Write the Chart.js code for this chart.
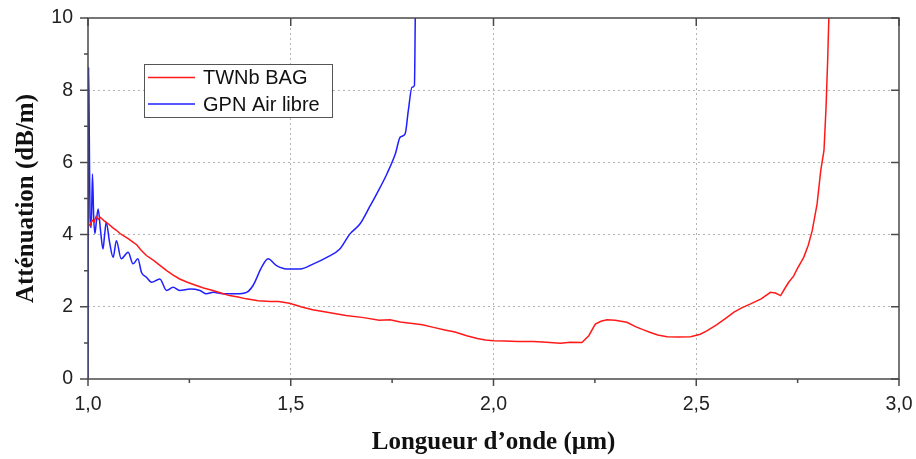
<!DOCTYPE html>
<html><head><meta charset="utf-8">
<script src="https://cdn.jsdelivr.net/npm/chart.js@4.4.1/dist/chart.umd.min.js"></script>
<style>html,body{margin:0;padding:0;background:#fff;}canvas{display:block;}</style>
</head><body>
<canvas id="c" width="916" height="459"></canvas>
<script>
// ---- data ----
const seriesLabels = ['TWNb BAG', 'GPN Air libre'];
const redX = [1.000,1.005,1.010,1.015,1.020,1.025,1.030,1.040,1.050,1.060,1.070,1.079,1.090,1.100,1.110,1.120,1.130,1.144,1.160,1.175,1.194,1.210,1.226,1.245,1.267,1.285,1.308,1.328,1.349,1.370,1.390,1.420,1.450,1.470,1.497,1.525,1.554,1.590,1.636,1.680,1.718,1.745,1.770,1.800,1.825,1.852,1.880,1.905,1.934,1.960,1.980,2.000,2.030,2.060,2.099,2.130,2.165,2.190,2.218,2.235,2.251,2.265,2.280,2.300,2.329,2.350,2.370,2.387,2.405,2.428,2.455,2.486,2.510,2.527,2.550,2.575,2.593,2.612,2.634,2.660,2.683,2.695,2.708,2.718,2.728,2.740,2.749,2.765,2.776,2.786,2.798,2.807,2.815,2.820,2.824,2.827,2.829];
const redY = [4.30,4.25,4.40,4.35,4.50,4.42,4.48,4.38,4.30,4.20,4.12,4.03,3.95,3.88,3.80,3.72,3.58,3.42,3.30,3.17,3.00,2.88,2.77,2.68,2.59,2.52,2.45,2.38,2.31,2.27,2.22,2.17,2.15,2.15,2.10,2.00,1.92,1.85,1.76,1.70,1.63,1.64,1.58,1.54,1.50,1.43,1.36,1.30,1.20,1.12,1.08,1.06,1.05,1.04,1.04,1.02,0.99,1.02,1.01,1.20,1.52,1.60,1.64,1.63,1.57,1.45,1.36,1.29,1.22,1.17,1.16,1.17,1.24,1.34,1.50,1.70,1.85,1.97,2.08,2.22,2.40,2.38,2.31,2.50,2.68,2.85,3.05,3.37,3.70,4.11,4.85,5.77,6.33,7.50,8.80,10.0,11.0];
const blueX = [1.000,1.0015,1.003,1.005,1.008,1.011,1.014,1.017,1.021,1.025,1.031,1.037,1.041,1.045,1.053,1.062,1.070,1.082,1.099,1.111,1.123,1.132,1.144,1.157,1.177,1.194,1.210,1.226,1.252,1.276,1.292,1.309,1.333,1.366,1.391,1.407,1.428,1.444,1.465,1.490,1.523,1.556,1.589,1.621,1.646,1.671,1.696,1.712,1.737,1.758,1.770,1.782,1.790,1.799,1.805,1.807,1.808];
const blueY = [0.00,8.64,7.00,4.50,4.20,5.68,4.50,4.03,4.40,4.71,4.10,3.60,4.00,4.34,3.80,3.37,3.83,3.33,3.51,3.19,3.33,2.95,2.82,2.68,2.77,2.45,2.54,2.45,2.49,2.45,2.36,2.40,2.36,2.36,2.40,2.59,3.09,3.33,3.14,3.05,3.05,3.19,3.37,3.60,4.02,4.30,4.80,5.13,5.68,6.24,6.70,6.79,7.44,8.08,8.13,9.93,11.0];
const xRange = [1.0, 3.0];
const yRange = [0, 10];
const xTitle = 'Longueur d\u2019onde (\u00b5m)';
const yTitle = 'Att\u00e9nuation (dB/m)';

const toPts = (xs, ys) => xs.map((x, i) => ({x: x, y: ys[i]}));
const isMajorX = v => Math.abs(v * 2 - Math.round(v * 2)) < 1e-6;
const isMajorY = v => Math.abs(v / 2 - Math.round(v / 2)) < 1e-6;
const noPad = s => { s.paddingLeft = 0; s.paddingRight = 0; s.paddingTop = 0; s.paddingBottom = 0; };

const framePlugin = {
  id: 'frame',
  afterDatasetsDraw(chart) {
    const {ctx, chartArea: a, scales: {x, y}} = chart;
    ctx.save();
    ctx.strokeStyle = '#4a4a4a';
    ctx.lineWidth = 1.5;
    ctx.strokeRect(a.left, a.top, a.right - a.left, a.bottom - a.top);
    ctx.beginPath();
    x.ticks.forEach(t => {
      const px = x.getPixelForValue(t.value);
      const major = isMajorX(t.value);
      ctx.moveTo(px, a.bottom); ctx.lineTo(px, a.bottom + (major ? 7 : 4));
      if (major) { ctx.moveTo(px, a.top); ctx.lineTo(px, a.top + 8); }
    });
    y.ticks.forEach(t => {
      const py = y.getPixelForValue(t.value);
      const major = isMajorY(t.value);
      ctx.moveTo(a.left, py); ctx.lineTo(a.left - (major ? 8 : 4), py);
      if (major) { ctx.moveTo(a.right, py); ctx.lineTo(a.right - 8, py); }
    });
    ctx.stroke();

    // legend box
    const bx = a.left + 56, by = a.top + 46, bw = 188, bh = 53;
    ctx.fillStyle = '#fff';
    ctx.fillRect(bx, by, bw, bh);
    ctx.strokeStyle = '#555';
    ctx.lineWidth = 1;
    ctx.strokeRect(bx + 0.5, by + 0.5, bw, bh);
    ctx.font = '20px "Liberation Sans", Arial, sans-serif';
    ctx.textBaseline = 'middle';
    ctx.textAlign = 'left';
    chart.data.datasets.forEach((ds, i) => {
      const ly = by + 13.5 + i * 26.5;
      ctx.strokeStyle = ds.borderColor;
      ctx.lineWidth = 1.5;
      ctx.beginPath(); ctx.moveTo(bx + 4, ly); ctx.lineTo(bx + 51, ly); ctx.stroke();
      ctx.fillStyle = '#111';
      ctx.fillText(ds.label, bx + 59, ly + 1);
    });
    ctx.restore();
  }
};

new Chart(document.getElementById('c'), {
  type: 'scatter',
  data: {
    datasets: [
      {label: seriesLabels[0], data: toPts(redX, redY), borderColor: '#ff1a1a', backgroundColor: '#ff1a1a', showLine: true, pointRadius: 0, borderWidth: 1.5, tension: 0},
      {label: seriesLabels[1], data: toPts(blueX, blueY), borderColor: '#1f1fff', backgroundColor: '#1f1fff', showLine: true, pointRadius: 0, borderWidth: 1.5, cubicInterpolationMode: 'monotone'}
    ]
  },
  options: {
    responsive: false,
    devicePixelRatio: 1,
    animation: false,
    layout: {padding: {left: 0, right: 17, top: 18, bottom: 0}},
    plugins: {legend: {display: false}, tooltip: {enabled: false}},
    scales: {
      x: {
        type: 'linear', min: xRange[0], max: xRange[1],
        afterFit(s) { s.height = 80; noPad(s); },
        ticks: {stepSize: 0.25, autoSkip: false, maxRotation: 0, padding: 14, color: '#222',
          font: {family: '"Liberation Sans", Arial, sans-serif', size: 19.5},
          callback: v => isMajorX(v) ? v.toFixed(1).replace('.', ',') : ''},
        grid: {drawTicks: false, lineWidth: 1,
          color: c => (c.tick && isMajorX(c.tick.value) && c.tick.value > xRange[0] + 1e-6 && c.tick.value < xRange[1] - 1e-6) ? '#b4b4b4' : 'rgba(0,0,0,0)'},
        border: {display: false, dash: [2, 3]},
        title: {display: true, text: xTitle, color: '#111', padding: {top: 4, bottom: 1},
          font: {family: '"Liberation Serif", "Times New Roman", serif', size: 25, weight: 'bold'}}
      },
      y: {
        type: 'linear', min: yRange[0], max: yRange[1],
        afterFit(s) { s.width = 88; noPad(s); },
        ticks: {stepSize: 1, autoSkip: false, padding: 15, color: '#222',
          font: {family: '"Liberation Sans", Arial, sans-serif', size: 19.5},
          callback: v => isMajorY(v) ? String(v) : ''},
        grid: {drawTicks: false, lineWidth: 1,
          color: c => (c.tick && isMajorY(c.tick.value) && c.tick.value > yRange[0] + 1e-6 && c.tick.value < yRange[1] - 1e-6) ? '#b4b4b4' : 'rgba(0,0,0,0)'},
        border: {display: false, dash: [2, 3]},
        title: {display: true, text: yTitle, color: '#111', padding: 12,
          font: {family: '"Liberation Serif", "Times New Roman", serif', size: 25, weight: 'bold'}}
      }
    }
  },
  plugins: [framePlugin]
});
</script>
</body></html>
